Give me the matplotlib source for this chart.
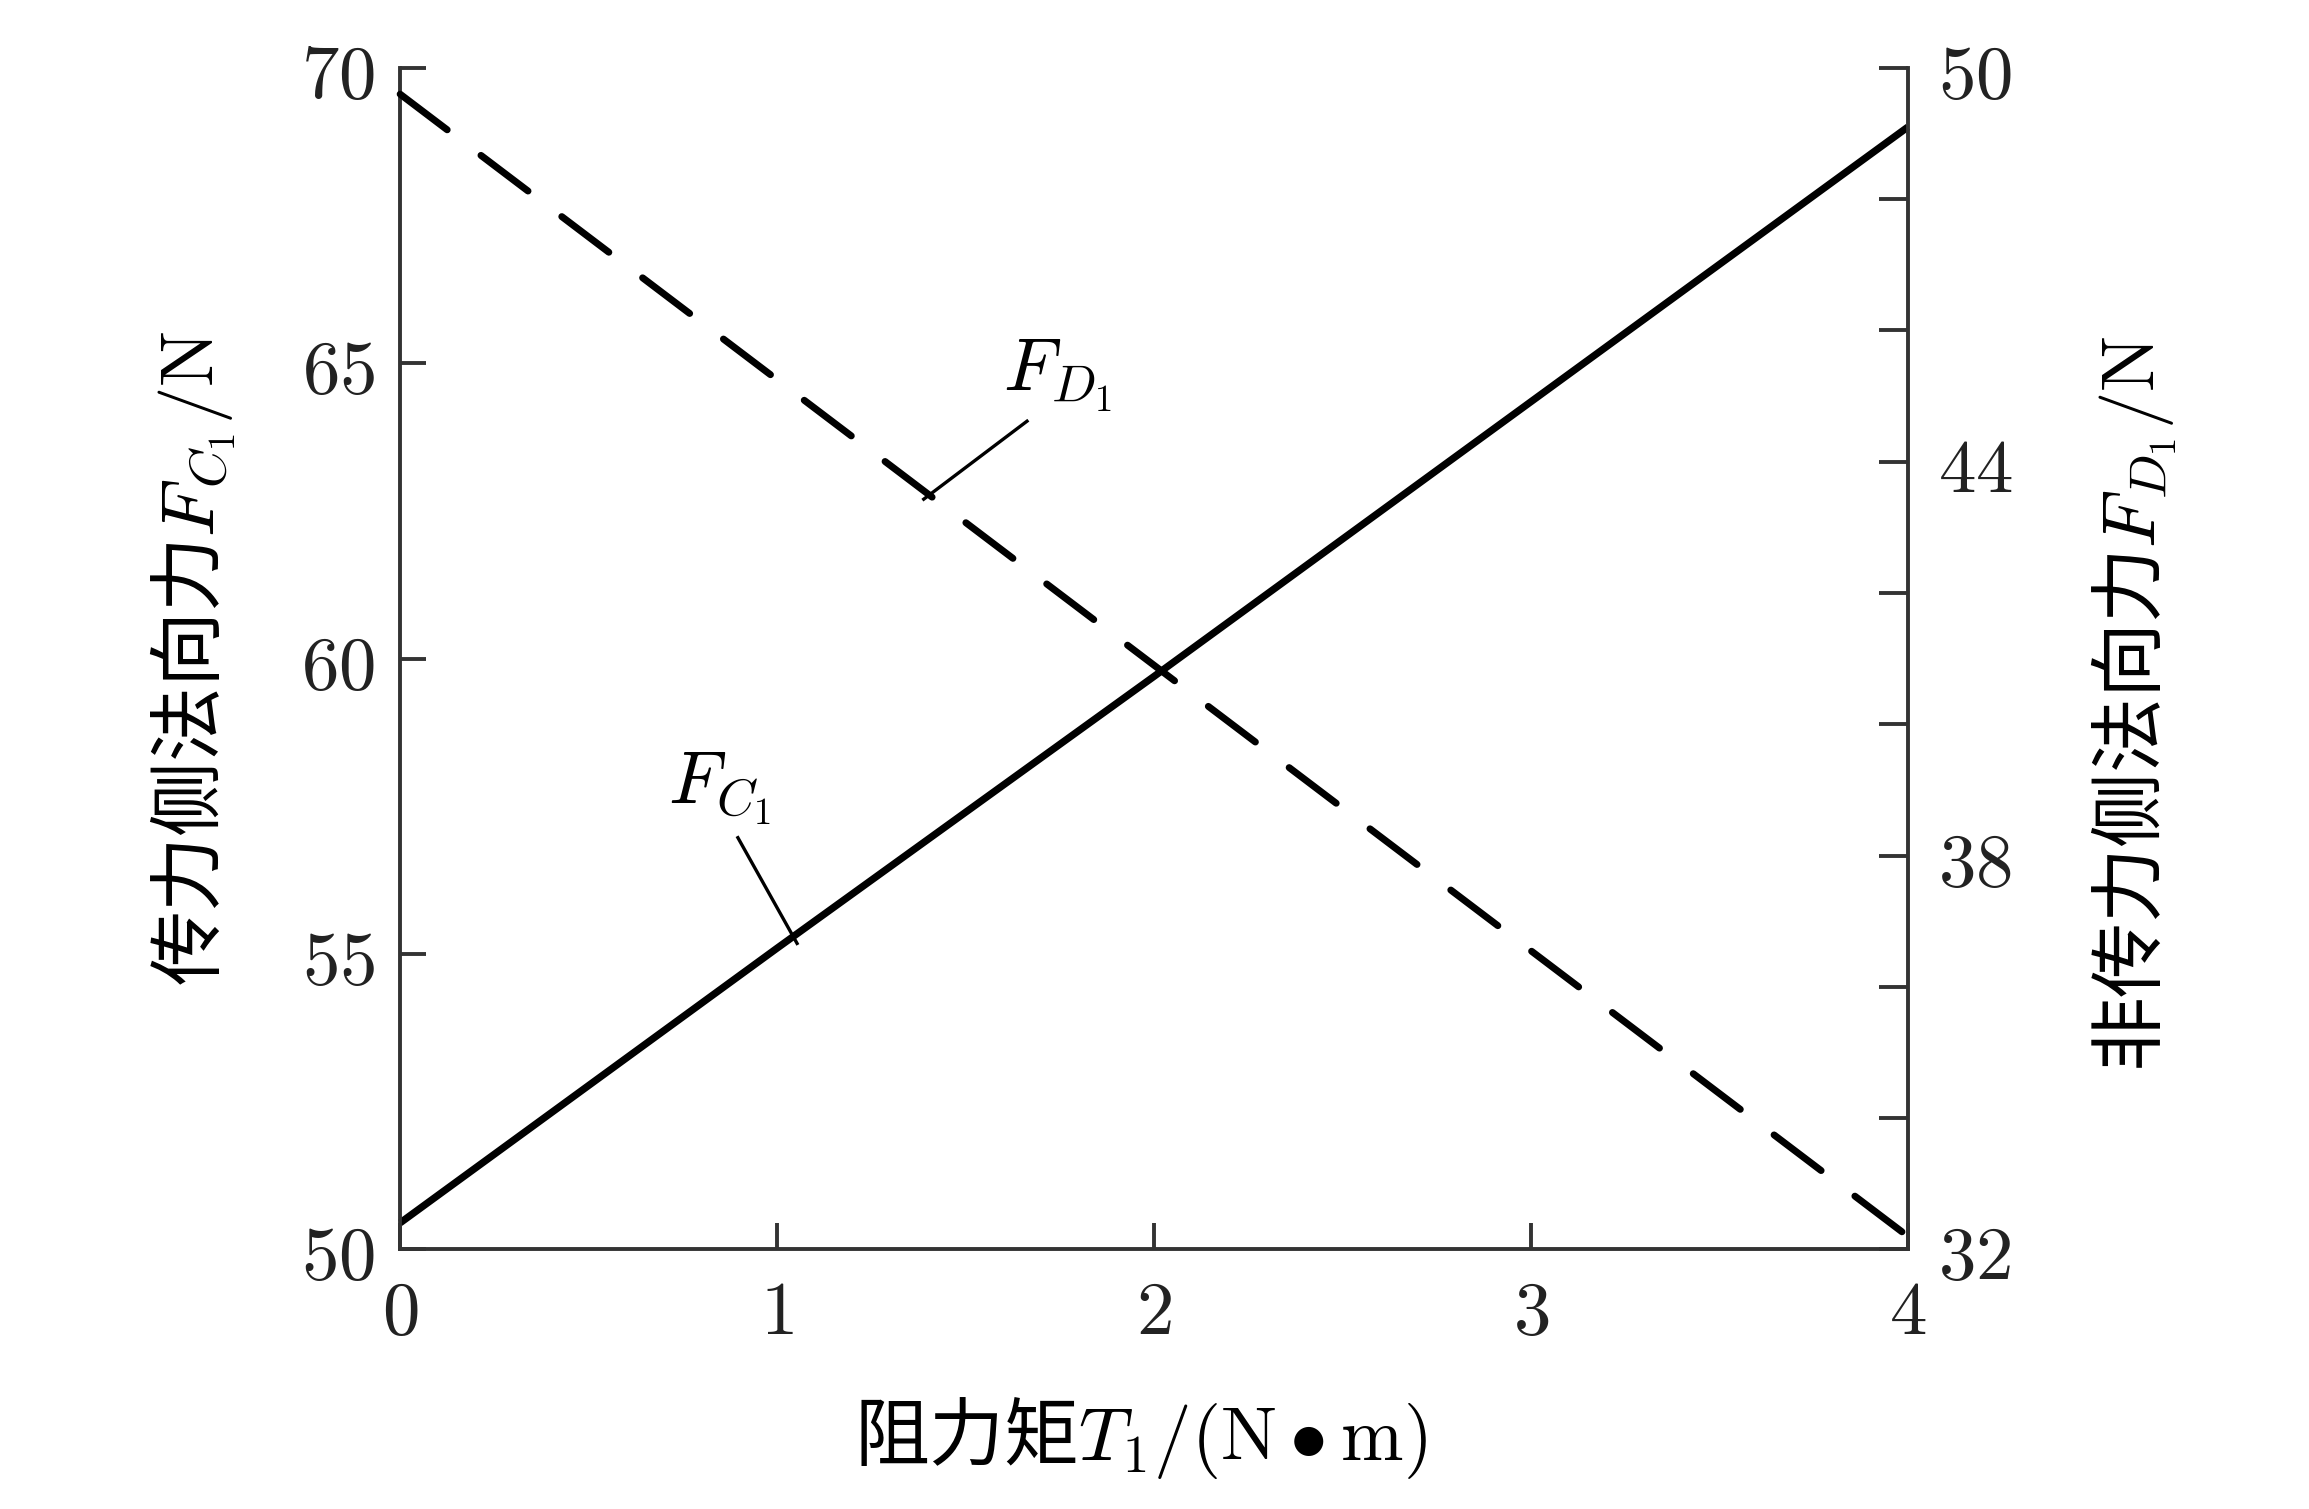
import numpy as np
import matplotlib
matplotlib.use('Agg')
import matplotlib.pyplot as plt
from matplotlib.ticker import FuncFormatter

# 数据：阻力矩 T1 与两侧法向力
T1 = [0, 1, 2, 3, 4]
F_C1 = [50.45, 55.1, 59.7, 64.35, 69.0]     # 左轴, N
F_D1 = [49.6, 45.25, 40.9, 36.55, 32.2]     # 右轴, N

x_ticks = [0, 1, 2, 3, 4]
left_ticks = [50, 55, 60, 65, 70]
right_ticks = [32, 34, 36, 38, 40, 42, 44, 46, 48, 50]
right_labeled = [32, 38, 44, 50]

# 标注位置 (数据坐标, 左轴)
fc_text = (0.71, 57.8)
fc_leader = ([0.896, 1.053], [56.97, 55.18])
fd_text = (1.60, 64.8)
fd_leader = ([1.389, 1.663], [62.70, 64.02])

plt.rcParams['mathtext.fontset'] = 'cm'
plt.rcParams['font.family'] = ['Noto Sans CJK SC', 'DejaVu Sans']

spine_c = '#333333'
fs = 54

fig = plt.figure(figsize=(23.09, 15.09), dpi=100)
ax = fig.add_axes([0.1733, 0.172, 0.653, 0.783])
ax2 = ax.twinx()

ax.plot(T1, F_C1, color='black', lw=5.2, solid_capstyle='butt', clip_on=False)
ax2.plot(T1, F_D1, color='black', lw=5.0, dashes=(8.5, 6.1), dash_capstyle='round', clip_on=False)

# 引线与标注
ax.plot(*fc_leader, color='black', lw=2.4)
ax.plot(*fd_leader, color='black', lw=2.4)
ax.text(fc_text[0], fc_text[1], r'$F_{C_1}$', fontsize=fs, va='center', ha='left')
ax.text(fd_text[0], fd_text[1], r'$F_{D_1}$', fontsize=fs, va='center', ha='left')

ax.set_xlim(0, 4)
ax.set_ylim(50, 70)
ax2.set_ylim(32, 50)

ax.set_xticks(x_ticks)
ax.set_yticks(left_ticks)
ax2.set_yticks(right_ticks)
math_fmt = FuncFormatter(lambda v, p: f'${v:g}$')
ax.xaxis.set_major_formatter(math_fmt)
ax.yaxis.set_major_formatter(math_fmt)
ax2.yaxis.set_major_formatter(FuncFormatter(
    lambda v, p: f'${v:g}$' if round(v) in right_labeled else ''))

for a in (ax, ax2):
    a.spines['top'].set_visible(False)
    for s in a.spines.values():
        s.set_linewidth(2.8)
        s.set_color(spine_c)
ax.spines['right'].set_visible(False)
ax2.spines['left'].set_visible(False)
ax2.spines['bottom'].set_visible(False)

ax.tick_params(axis='x', direction='in', length=19, width=2.8, color=spine_c,
               labelsize=fs, pad=18, labelcolor='#222222')
ax.tick_params(axis='y', direction='in', length=19, width=2.8, color=spine_c,
               labelsize=fs, pad=18, labelcolor='#222222')
ax2.tick_params(axis='y', direction='in', length=21, width=2.8, color=spine_c,
                labelsize=fs, pad=22, labelcolor='#222222')

ax.set_xlabel(r'阻力矩$T_1/(\mathrm{N}\bullet\mathrm{m})$', fontsize=fs)
ax.xaxis.label.set_va('center')
ax.xaxis.set_label_coords(0.491, -0.16)

ax.set_ylabel(r'传力侧法向力$F_{C_1}/\mathrm{N}$', fontsize=fs)
ax.yaxis.label.set_va('center')
ax.yaxis.set_label_coords(-0.137, 0.5)

ax2.set_ylabel(r'非传力侧法向力$F_{D_1}/\mathrm{N}$', fontsize=fs, rotation=90)
ax2.yaxis.label.set_va('center')
ax2.yaxis.set_label_coords(1.15, 0.462)

fig.savefig('out.png', dpi=100)
